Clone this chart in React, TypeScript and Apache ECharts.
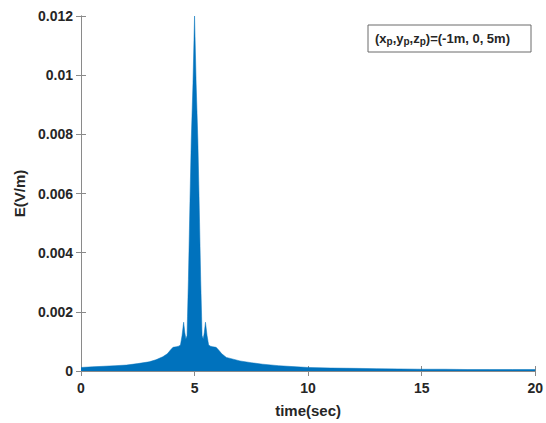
import React, { useEffect, useRef } from "react";
import * as echarts from "echarts";

const timeSec = [0, 0.5, 1, 1.5, 2, 2.5, 3, 3.3, 3.6, 3.8, 3.95, 4.05, 4.2, 4.3, 4.38, 4.45, 4.52, 4.57, 4.62, 4.67, 4.69, 4.73, 4.8, 4.855, 4.93, 5.0, 5.07, 5.145, 5.2, 5.27, 5.31, 5.33, 5.38, 5.43, 5.48, 5.55, 5.62, 5.7, 5.8, 5.95, 6.05, 6.2, 6.4, 6.7, 7, 7.5, 8, 8.7, 9.5, 10, 11, 12, 13, 14, 15, 16, 17, 18, 19, 20];
const eField = [0.00012, 0.00014, 0.00016, 0.00018, 0.0002, 0.00025, 0.00031, 0.00038, 0.00048, 0.00058, 0.00072, 0.0008, 0.00082, 0.00084, 0.00088, 0.0012, 0.00165, 0.0013, 0.00108, 0.0012, 0.00185, 0.0031, 0.0058, 0.0078, 0.0097, 0.012, 0.0097, 0.0078, 0.0058, 0.0031, 0.00185, 0.0012, 0.00108, 0.0013, 0.00165, 0.0012, 0.00088, 0.00084, 0.00082, 0.0008, 0.00072, 0.00058, 0.00046, 0.0004, 0.00034, 0.00028, 0.00023, 0.00018, 0.00014, 0.00012, 0.0001, 0.00009, 0.00008, 0.00007, 0.00006, 0.00006, 0.00005, 0.00005, 0.00005, 0.00005];
const xTicks = { min: 0, max: 20, interval: 5 };
const yTicks = { min: 0, max: 0.012, interval: 0.002 };

const FONT = "'Liberation Sans', Arial, Helvetica, sans-serif";
const AXIS_COLOR = "#8a8a8a";
const TEXT_COLOR = "#262626";

export default function App() {
  const ref = useRef<HTMLDivElement>(null);
  useEffect(() => {
    if (!ref.current) return;
    const chart = echarts.init(ref.current, undefined, { renderer: "svg" });
    const data = timeSec.map((t, i) => [t, eField[i]]);
    const axisLine = { show: true, lineStyle: { color: AXIS_COLOR, width: 1 } };
    const axisTick = { show: true, inside: true, length: 5, lineStyle: { color: AXIS_COLOR } };
    chart.setOption({
      animation: false,
      backgroundColor: "#ffffff",
      grid: { left: 81, right: 8, top: 16, bottom: 51, containLabel: false },
      xAxis: [
        {
          type: "value",
          ...xTicks,
          position: "bottom",
          axisLine,
          axisTick,
          splitLine: { show: false },
          axisLabel: { color: TEXT_COLOR, fontFamily: FONT, fontWeight: "bold", fontSize: 14, margin: 10 },
          name: "time(sec)",
          nameLocation: "middle",
          nameGap: 32,
          nameTextStyle: { color: TEXT_COLOR, fontFamily: FONT, fontWeight: "bold", fontSize: 15 },
        },
        {
          type: "value",
          ...xTicks,
          position: "top",
          axisLine,
          axisTick,
          splitLine: { show: false },
          axisLabel: { show: false },
        },
      ],
      yAxis: [
        {
          type: "value",
          ...yTicks,
          position: "left",
          axisLine,
          axisTick,
          splitLine: { show: false },
          axisLabel: { color: TEXT_COLOR, fontFamily: FONT, fontWeight: "bold", fontSize: 14, margin: 8 },
          name: "E(V/m)",
          nameLocation: "middle",
          nameGap: 54,
          nameTextStyle: { color: TEXT_COLOR, fontFamily: FONT, fontWeight: "bold", fontSize: 15 },
        },
        {
          type: "value",
          ...yTicks,
          position: "right",
          axisLine,
          axisTick,
          splitLine: { show: false },
          axisLabel: { show: false },
        },
      ],
      series: [
        {
          type: "line",
          xAxisIndex: 0,
          yAxisIndex: 0,
          data,
          showSymbol: false,
          lineStyle: { color: "#0072BD", width: 0.5 },
          areaStyle: { color: "#0072BD", opacity: 1 },
          z: 1,
        },
      ],
      graphic: [
        {
          type: "rect",
          shape: { x: 368, y: 25, width: 163, height: 27 },
          style: { fill: "#ffffff", stroke: "#6a6a6a", lineWidth: 1 },
          z: 10,
        },
        {
          type: "text",
          x: 375,
          y: 31,
          style: {
            text: "(x{s|p},y{s|p},z{s|p})=(-1m, 0, 5m)",
            fill: TEXT_COLOR,
            font: `bold 13px ${FONT}`,
            rich: {
              s: { fontSize: 10, fontWeight: "bold", fontFamily: FONT, verticalAlign: "bottom", padding: [5, 0, 0, 0], fill: TEXT_COLOR },
            },
          },
          z: 11,
        },
      ],
    });
    return () => chart.dispose();
  }, []);
  return <div ref={ref} style={{ position: "fixed", left: 0, top: 0, width: 546, height: 423 }} />;
}
